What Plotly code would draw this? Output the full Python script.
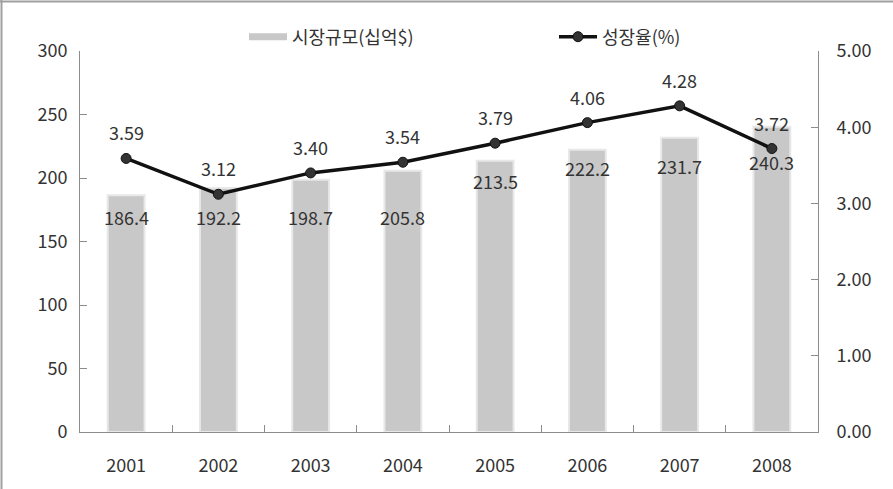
import plotly.graph_objects as go

years = ["2001", "2002", "2003", "2004", "2005", "2006", "2007", "2008"]
market_size = [186.4, 192.2, 198.7, 205.8, 213.5, 222.2, 231.7, 240.3]
growth_rate = [3.59, 3.12, 3.40, 3.54, 3.79, 4.06, 4.28, 3.72]
left_ticks = [0, 50, 100, 150, 200, 250, 300]
right_ticks = [0, 1, 2, 3, 4, 5]

# label placement (style): pixel offset of each bar label below its bar top
bar_label_shift = [-22, -29, -37, -46, -20, -18, -28, -35]
line_label_shift = 26

FONT = "Noto Sans CJK KR"
TXT = "#333333"
BAR = "#c8c8c8"
FS = 18

fig = go.Figure()
fig.add_trace(go.Bar(
    x=years, y=market_size, name="시장규모(십억$)", showlegend=False,
    marker=dict(color=BAR, line=dict(color="#e8e8e8", width=2)),
    yaxis="y", hoverinfo="skip",
))
# legend-only entry so the key is drawn as a wide grey bar
fig.add_trace(go.Scatter(
    x=[None], y=[None], name="시장규모(십억$)", mode="lines",
    line=dict(color=BAR, width=7), yaxis="y",
))
fig.add_trace(go.Scatter(
    x=years, y=growth_rate, name="성장율(%)", mode="lines+markers",
    line=dict(color="#111111", width=3.5),
    marker=dict(color="#333333", size=10, line=dict(color="#111111", width=1)),
    yaxis="y2",
))

annotations = []
for i, v in enumerate(market_size):
    annotations.append(dict(x=i, y=v, xref="x", yref="y", text=f"{v:.1f}",
                            showarrow=False, yshift=bar_label_shift[i],
                            font=dict(family=FONT, size=FS, color=TXT)))
for i, v in enumerate(growth_rate):
    annotations.append(dict(x=i, y=v, xref="x", yref="y2", text=f"{v:.2f}",
                            showarrow=False, yshift=line_label_shift,
                            font=dict(family=FONT, size=FS, color=TXT)))

fig.update_layout(
    width=893, height=489,
    margin=dict(l=80, r=75, t=51, b=57),
    paper_bgcolor="white", plot_bgcolor="white",
    font=dict(family=FONT, size=FS, color=TXT),
    bargap=0.6,
    showlegend=True,
    legend=dict(orientation="h", x=(244 - 80) / 738, xanchor="left",
                y=(432 - 37) / 381, yanchor="middle",
                font=dict(family=FONT, size=FS, color=TXT), itemwidth=38,
                entrywidthmode="pixels", entrywidth=257, traceorder="normal",
                bgcolor="rgba(0,0,0,0)"),
    xaxis=dict(type="category", range=[-0.5, 7.5], showline=True, linecolor="#8c8c8c",
               linewidth=1, ticks="inside", ticklen=7, tickcolor="#8c8c8c",
               tickson="boundaries", tickangle=0, automargin=False,
               ticklabelstandoff=17, showgrid=False, zeroline=False),
    yaxis=dict(range=[0, 300], tickvals=left_ticks, showline=True, linecolor="#8c8c8c",
               linewidth=1, ticks="inside", ticklen=7, tickcolor="#8c8c8c",
               automargin=False,
               showgrid=False, zeroline=False, ticklabelstandoff=8),
    yaxis2=dict(range=[0, 5], tickvals=right_ticks, tickformat=".2f", overlaying="y",
                side="right", showline=True, linecolor="#8c8c8c", linewidth=1,
                ticks="inside", ticklen=7, tickcolor="#8c8c8c", automargin=False,
                showgrid=False, zeroline=False, ticklabelstandoff=14),
    annotations=annotations,
    shapes=[
        dict(type="line", xref="paper", yref="paper", x0=-78.5 / 738, x1=-78.5 / 738,
             y0=-0.2, y1=1.2, line=dict(color="#a0a0a0", width=2)),
        dict(type="line", xref="paper", yref="paper", x0=-0.2, x1=1.2,
             y0=1 + 49.5 / 381, y1=1 + 49.5 / 381, line=dict(color="#a0a0a0", width=2)),
    ],
)

fig.write_html("out.html")
